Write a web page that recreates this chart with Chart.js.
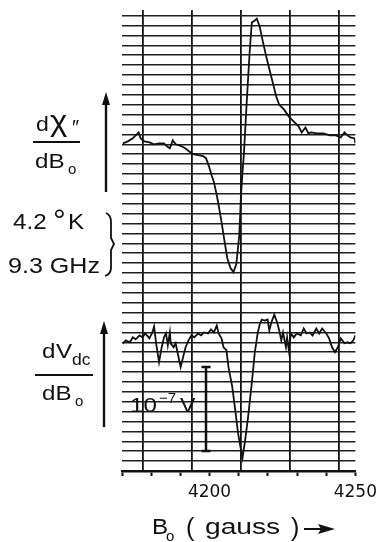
<!DOCTYPE html>
<html>
<head>
<meta charset="utf-8">
<title>ESR derivative traces</title>
<script src="https://cdn.jsdelivr.net/npm/chart.js@4.4.1/dist/chart.umd.min.js"></script>
<style>
    html, body { margin: 0; padding: 0; background: #fff; }
    #wrap { width: 383px; height: 542px; }
</style>
</head>
<body>
<div id="wrap"><canvas id="esrChart" width="383" height="542"></canvas></div>
<script>
// Field axis (gauss)
const fieldMin = 4170;
const fieldMax = 4250;
const fieldStep = 10;
const tickLabels = [4200, 4250];

// Upper trace: d chi'' / dB0, in recorder divisions from its baseline
const fieldTop = [4170.3, 4172.0, 4173.7, 4175.7, 4176.4, 4177.7, 4179.4, 4181.0, 4182.7, 4184.4,
    4185.4, 4186.4, 4187.4, 4188.4, 4189.7, 4191.1, 4192.1, 4193.4, 4194.4, 4196.1,
    4197.8, 4198.8, 4199.8, 4200.8, 4201.5, 4202.1, 4202.8, 4204.1, 4205.1, 4206.1,
    4207.2, 4208.2, 4209.2, 4210.2, 4210.8, 4211.3, 4211.8, 4212.8, 4213.8, 4214.5,
    4215.5, 4216.2, 4217.2, 4218.2, 4219.5, 4221.2, 4222.9, 4223.9, 4225.6, 4227.2,
    4228.9, 4230.6, 4231.6, 4232.9, 4233.9, 4234.9, 4236.6, 4239.0, 4241.3, 4243.3,
    4245.0, 4246.3, 4247.3, 4248.3, 4249.7, 4250.0];
const chiTop = [0.1, 0.3, 0.6, 1.2, 0.6, 0.3, 0.2, 0.0, 0.1, 0.1,
    -0.2, -0.4, 0.4, 0.0, -0.1, -0.3, -0.5, -0.8, -1.0, -1.1,
    -1.2, -1.4, -2.2, -3.2, -3.8, -4.6, -5.6, -7.8, -9.7, -11.5,
    -12.5, -12.9, -12.1, -9.2, -5.1, -2.9, -0.9, 4.5, 9.5, 12.3,
    12.5, 12.7, 11.9, 10.5, 8.8, 6.8, 4.8, 4.0, 3.5, 2.8,
    2.3, 1.8, 1.2, 1.7, 1.1, 1.2, 1.1, 1.1, 0.9, 0.9,
    0.7, 1.2, 0.9, 0.7, 0.6, 0.1];

// Lower trace: dVdc / dB0, in recorder divisions from its baseline
const fieldBottom = [4170.3, 4171.3, 4172.7, 4173.7, 4174.7, 4176.0, 4177.0, 4178.0, 4179.4, 4180.4,
    4181.0, 4181.7, 4182.7, 4183.4, 4184.4, 4185.1, 4185.7, 4186.4, 4186.7, 4187.7,
    4188.4, 4189.1, 4190.1, 4191.1, 4191.8, 4192.8, 4193.8, 4194.8, 4196.1, 4197.1,
    4198.1, 4199.5, 4200.5, 4201.5, 4202.5, 4203.1, 4204.1, 4204.8, 4205.8, 4206.5,
    4207.8, 4208.8, 4209.8, 4210.8, 4211.3, 4212.2, 4213.2, 4214.5, 4215.5, 4216.5,
    4217.2, 4217.9, 4218.9, 4219.9, 4220.5, 4221.2, 4222.2, 4223.2, 4223.9, 4224.6,
    4225.2, 4226.2, 4226.6, 4227.2, 4227.9, 4228.9, 4229.9, 4231.3, 4232.3, 4233.3,
    4234.3, 4235.3, 4236.6, 4237.6, 4238.6, 4240.0, 4241.0, 4242.0, 4243.0, 4244.0,
    4245.0, 4246.3, 4247.3, 4248.3, 4249.3, 4250.0];
const vdcBottom = [-0.1, 0.2, 0.0, 0.5, 0.3, 0.7, 0.5, 0.9, 0.4, 1.0,
    1.6, -0.1, -2.0, -0.8, 0.5, 0.9, -0.3, 1.0, -0.1, -0.5,
    -0.1, -1.1, -2.5, -1.3, -0.5, 0.2, 0.7, 0.5, 0.9, 0.7,
    1.0, 0.9, 1.3, 1.0, 1.7, 0.9, 0.4, -0.5, -0.8, -2.5,
    -4.5, -6.8, -9.2, -10.9, -11.7, -9.9, -7.6, -4.1, -1.1, 0.9,
    1.8, 2.3, 2.2, 2.3, 1.2, 2.0, 2.8, 2.0, 1.2, 0.2,
    1.0, -0.5, 0.5, -0.8, 0.9, 0.5, 0.9, 0.7, 1.4, 0.9,
    1.0, 0.7, 1.4, 0.9, 1.4, 0.9, 0.4, -0.5, -1.0, -0.5,
    0.4, -0.1, 0.0, -0.1, 0.2, 0.7];

const ink = '#111';
const sans = '"Liberation Sans", Arial, sans-serif';

function toPoints(xs, ys) {
    return xs.map((x, i) => ({ x: x, y: ys[i] }));
}

// one ruling per whole unit of the scale, nothing at the fractional ends
function wholeTicks(scale) {
    const ticks = [];
    for (let v = Math.ceil(scale.min); v <= Math.floor(scale.max); v++) {
        ticks.push({ value: v });
    }
    scale.ticks = ticks;
}

// draw a piece of text, optionally stretched sideways like the original lettering
function label(ctx, str, x, y, size, sx) {
    ctx.save();
    ctx.font = size + 'px ' + sans;
    ctx.textBaseline = 'alphabetic';
    ctx.textAlign = 'left';
    ctx.translate(x, y);
    ctx.scale(sx || 1, 1);
    ctx.fillText(str, 0, 0);
    ctx.restore();
}

function arrowUp(ctx, x, yTip, yEnd) {
    ctx.lineWidth = 2.4;
    ctx.beginPath();
    ctx.moveTo(x, yEnd);
    ctx.lineTo(x, yTip + 8);
    ctx.stroke();
    ctx.beginPath();
    ctx.moveTo(x, yTip);
    ctx.lineTo(x - 4, yTip + 13);
    ctx.lineTo(x + 4, yTip + 13);
    ctx.closePath();
    ctx.fill();
}

// labels around the recorder paper
const paperNotes = {
    id: 'paperNotes',
    afterDraw(chart) {
        const ctx = chart.ctx;
        ctx.save();
        ctx.fillStyle = ink;
        ctx.strokeStyle = ink;
        ctx.lineCap = 'butt';

        // upper trace label
        label(ctx, 'd', 36, 131, 21, 1.1);
        label(ctx, 'χ', 50, 131, 30, 1.1);
        label(ctx, '″', 72, 134, 20);
        ctx.lineWidth = 2.2;
        ctx.beginPath(); ctx.moveTo(33, 142); ctx.lineTo(80, 142); ctx.stroke();
        label(ctx, 'dB', 35, 168, 21, 1.15);
        label(ctx, 'o', 68, 174, 15);
        arrowUp(ctx, 106, 92, 192);

        // conditions
        label(ctx, '4.2', 13, 229, 22, 1.1);
        label(ctx, '°', 53, 231, 32);
        label(ctx, 'K', 68, 229, 22, 1.1);
        label(ctx, '9.3 GHz', 8, 273, 22, 1.14);
        ctx.lineWidth = 1.8;
        ctx.beginPath();
        ctx.moveTo(106, 213);
        ctx.quadraticCurveTo(111, 215, 111, 222);
        ctx.lineTo(111, 238);
        ctx.lineTo(114, 244);
        ctx.lineTo(111, 250);
        ctx.lineTo(111, 268);
        ctx.quadraticCurveTo(111, 274, 105, 276);
        ctx.stroke();

        // lower trace label
        label(ctx, 'd', 42, 358, 21, 1.15);
        label(ctx, 'V', 56, 358, 21, 1.15);
        label(ctx, 'dc', 72, 365, 16, 1.1);
        ctx.lineWidth = 2.2;
        ctx.beginPath(); ctx.moveTo(35, 375); ctx.lineTo(93, 375); ctx.stroke();
        label(ctx, 'dB', 42, 400, 21, 1.15);
        label(ctx, 'o', 75, 406, 15);
        arrowUp(ctx, 104, 321, 427);

        // voltage scale bar
        label(ctx, '10', 130, 412, 21, 1.15);
        label(ctx, '−7', 159, 403, 15);
        label(ctx, 'V', 180, 412, 21, 1.1);
        ctx.lineWidth = 2.5;
        ctx.beginPath();
        ctx.moveTo(206, 367); ctx.lineTo(206, 451);
        ctx.moveTo(201.5, 367); ctx.lineTo(210.5, 367);
        ctx.moveTo(201.5, 451); ctx.lineTo(210.5, 451);
        ctx.stroke();

        // field axis title
        label(ctx, 'B', 152, 534, 22, 1.1);
        label(ctx, 'o', 166, 541, 15);
        label(ctx, '(', 186, 536, 25);
        label(ctx, 'gauss', 205, 534, 22, 1.28);
        label(ctx, ')', 291, 536, 25);
        ctx.lineWidth = 2;
        ctx.beginPath(); ctx.moveTo(304, 529); ctx.lineTo(322, 529); ctx.stroke();
        ctx.beginPath();
        ctx.moveTo(318, 524); ctx.lineTo(335, 529); ctx.lineTo(318, 534); ctx.lineTo(321, 529);
        ctx.closePath(); ctx.fill();

        ctx.restore();
    }
};

const ctx = document.getElementById('esrChart').getContext('2d');
new Chart(ctx, {
    type: 'line',
    data: {
        datasets: [{
            label: 'dχ″/dB0',
            data: toPoints(fieldTop, chiTop),
            xAxisID: 'x',
            yAxisID: 'yTop',
            borderColor: ink,
            borderWidth: 1.8,
            pointRadius: 0,
            tension: 0,
            fill: false
        }, {
            label: 'dVdc/dB0',
            data: toPoints(fieldBottom, vdcBottom),
            xAxisID: 'x',
            yAxisID: 'yBot',
            borderColor: ink,
            borderWidth: 1.8,
            pointRadius: 0,
            tension: 0,
            fill: false
        }]
    },
    options: {
        responsive: false,
        animation: false,
        devicePixelRatio: 1,
        layout: { padding: { left: 122, right: 22, top: 10, bottom: 29 } },
        plugins: {
            legend: { display: false },
            tooltip: { enabled: false }
        },
        scales: {
            x: {
                type: 'linear',
                position: 'bottom',
                min: fieldMin,
                max: fieldMax,
                afterFit: scale => { scale.height = 42; },
                ticks: {
                    stepSize: fieldStep,
                    autoSkip: false,
                    maxRotation: 0,
                    padding: 6,
                    color: ink,
                    font: { family: '"DejaVu Sans", sans-serif', size: 17 },
                    callback: v => tickLabels.includes(v) ? String(v) : ''
                },
                grid: {
                    drawOnChartArea: false,
                    drawTicks: true,
                    tickLength: 5,
                    tickWidth: 2,
                    tickColor: ink
                },
                border: { display: true, width: 2.6, color: ink }
            },
            // chart paper vertical rulings (one unit = one major paper division)
            xPaper: {
                type: 'linear',
                position: 'top',
                min: -0.418,
                max: 4.338,
                afterBuildTicks: wholeTicks,
                ticks: { display: false },
                grid: { color: ink, lineWidth: 1.8, drawTicks: false },
                border: { display: false }
            },
            // upper trace scale; its whole units are the horizontal paper rulings
            yTop: {
                type: 'linear',
                position: 'left',
                min: -33.0,
                max: 13.57,
                afterBuildTicks: wholeTicks,
                ticks: { display: false },
                grid: { color: '#1e1e1e', lineWidth: 1.5, drawTicks: false },
                border: { display: false }
            },
            yBot: {
                type: 'linear',
                position: 'left',
                display: false,
                min: -13.0,
                max: 33.57
            }
        }
    },
    plugins: [paperNotes]
});
</script>
</body>
</html>
